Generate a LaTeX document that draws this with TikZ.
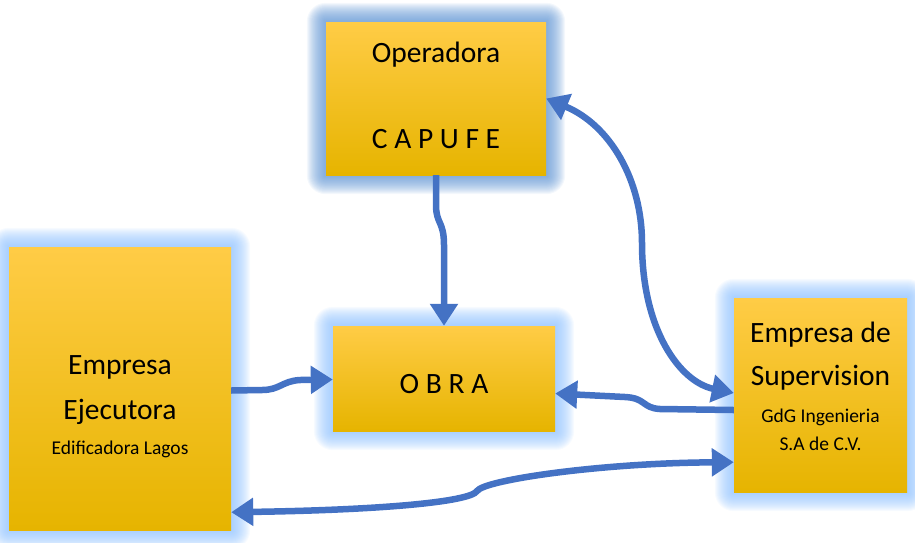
\documentclass[tikz,border=0pt]{standalone}
\usepackage{fontspec}
\setmainfont{Carlito}
\usetikzlibrary{arrows.meta,backgrounds}

\definecolor{arrowblue}{RGB}{68,114,196}
\definecolor{boxtop}{RGB}{255,204,70}
\definecolor{boxmid}{RGB}{255,192,0}
\definecolor{boxbot}{RGB}{230,180,0}
\definecolor{glowpale}{RGB}{140,192,255}
\definecolor{glowdark}{RGB}{90,145,210}

\tikzset{
	box/.style={rectangle, top color=boxtop, middle color=boxmid, bottom color=boxbot, inner sep=0pt},
	bigtext/.style={font=\fontsize{29.5}{44}\selectfont, align=center, inner sep=0pt},
	link/.style={draw=arrowblue, line width=6.5pt, -{Triangle[length=22pt,width=27pt]}},
	twolink/.style={link, {Triangle[length=22pt,width=27pt]}-{Triangle[length=22pt,width=27pt]}},
}

\newcommand*{\smalltext}{\fontsize{19.5}{24}\selectfont}

\begin{document}
\begin{tikzpicture}[x=1pt,y=1pt]

\newcommand*{\glow}[2]{
	\foreach \k in {1,...,19} {
		\fill[#2, opacity=0.065, rounded corners=\k pt]
			([shift={(-\k,\k)}]#1.north west) rectangle ([shift={(\k,-\k)}]#1.south east);
	}
}

\useasboundingbox (0,0) rectangle (915,-542);

% boxes
\node[box, minimum width=220pt, minimum height=153pt] (ope) at (436,-98.5) {};
\node[box, minimum width=222pt, minimum height=283pt] (eje) at (120,-388.5) {};
\node[box, minimum width=173pt, minimum height=194pt] (sup) at (820.5,-395) {};
\node[box, minimum width=222pt, minimum height=105pt] (obra) at (444,-378.5) {};

\begin{scope}[on background layer]
	\glow{ope}{glowdark}
	\glow{eje}{glowpale}
	\glow{sup}{glowpale}
	\glow{obra}{glowpale}
\end{scope}

% texts
\node[bigtext] (opetext) at ([yshift=3]ope.center) {Operadora\\[42pt]C A P U F E};
\node[bigtext] (ejetext) at ([yshift=-18]eje.center)
	{Empresa\\[1pt]Ejecutora\\[-9pt]{\smalltext Edificadora Lagos}};
\node[bigtext] (suptext) at ([yshift=9]sup.center)
	{Empresa de\\[-1pt]Supervision\\[-7pt]{\smalltext GdG Ingenieria}\\[-16pt]{\smalltext S.A de C.V.}};
\node[bigtext] (obratext) at ([yshift=-6]obra.center) {O B R A};

% connectors
\draw[link] (ope.south) -- (436,-205) .. controls (436,-224) and (444,-221) .. (444,-245) -- (obra.north);
\draw[link] ([yshift=-2]eje.east) -- (262,-390) .. controls (280,-390) and (282,-381) .. (300,-380) -- ([yshift=-1]obra.east -| obra.west);
\draw[link] ([yshift=-15]sup.west) -- (660,-409) .. controls (642,-408) and (646,-398) .. (625,-397) -- ([yshift=-15]obra.east);
\draw[twolink] (ope.east) .. controls (610,-125) and (642,-180) .. (642,-243)
	.. controls (642,-330) and (680,-382) .. ([yshift=2]sup.west);
\draw[twolink] ([yshift=18]eje.south east) .. controls (380,-510) and (470,-502) .. (477,-491)
	.. controls (484,-480) and (600,-463) .. ([yshift=30]sup.south west);

\end{tikzpicture}
\end{document}
